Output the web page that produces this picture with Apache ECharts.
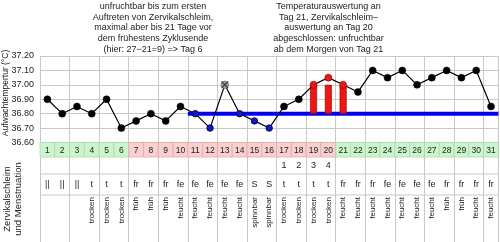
<!DOCTYPE html>
<html><head><meta charset="utf-8">
<script src="https://cdn.jsdelivr.net/npm/echarts@6/dist/echarts.min.js"></script>
<style>html,body{margin:0;padding:0;background:#fff}#c{width:500px;height:242px}</style>
</head><body><div id="c"></div>
<script>
const days = Array.from({length: 31}, (_, i) => String(i + 1));
const temps = [36.90,36.80,36.85,36.80,36.90,36.70,36.75,36.80,36.75,36.85,36.80,36.70,37.00,36.80,36.75,36.70,36.85,36.90,37.00,37.05,37.00,36.95,37.10,37.05,37.10,37.00,37.05,37.10,37.05,37.10,36.85];
const coverDays = [11,12,14,15,16];
const excludedDays = [13];
const highDays = [19,20,21];
const coverLevel = 36.80;
const coverSpan = [10.5, 31.5];
const highBarTop = 37.00;
const phase = ['g','g','g','g','g','g','p','p','p','p','p','p','p','p','p','p','p','p','p','p','g','g','g','g','g','g','g','g','g','g','g'];
const countRow = ['','','','','','','','','','','','','','','','','1','2','3','4','','','','','','','','','','',''];
const symbolRow = ['||','||','||','t','t','t','fr','fr','fr','fe','fe','fe','fe','fe','S','S','t','t','t','t','fr','fr','fr','fe','fe','fe','fe','fr','fr','fr','fr'];
const wordRow = ['','','','trocken','trocken','trocken','früh','früh','früh','feucht','feucht','feucht','feucht','feucht','spinnbar','spinnbar','trocken','trocken','trocken','trocken','feucht','feucht','feucht','feucht','feucht','feucht','feucht','früh','früh','feucht','feucht'];
const yMin = 36.6, yMax = 37.2, yStep = 0.1;
const yAxisTitle = 'Aufwachtempertur (°C)';
const tableTitle = 'Zervikalschleim\nund Menstruation';
const noteLeft = 'unfruchtbar bis zum ersten\nAuftreten von Zervikalschleim,\nmaximal aber bis 21 Tage vor\ndem frühestens Zyklusende\n(hier: 27−21=9) => Tag 6';
const noteRight = 'Temperaturauswertung an\nTag 21, Zervikalschleim–\nauswertung an Tag 20\nabgeschlossen: unfruchtbar\nab dem Morgen von Tag 21';

const FONT = '"Liberation Sans", Arial, sans-serif';
const GRID_L = 40, GRID_R = 1.6;
const rowEdges = [0, 14.5, 31.5, 52.5, 99.5];
const gridColor = '#c9c9c9';

const tempData = temps.map((t, i) => {
  const d = i + 1;
  let style = {color: '#000', borderColor: '#000', borderWidth: 0.5};
  let size = 7;
  if (coverDays.includes(d)) { style = {color: '#1818c0', borderColor: '#000040', borderWidth: 0.8}; size = 6.5; }
  if (excludedDays.includes(d)) { style = {color: '#9a9a9a', borderColor: '#666', borderWidth: 0.6}; size = 7.5; }
  if (highDays.includes(d)) { style = {color: '#ee1515', borderColor: '#8a0000', borderWidth: 0.6}; size = 7; }
  return {value: t, symbolSize: size, itemStyle: style};
});

const chart = echarts.init(document.getElementById('c'), null, {renderer: 'canvas'});
chart.setOption({
  animation: false,
  textStyle: {fontFamily: FONT},
  grid: [
    {left: GRID_L, right: GRID_R, top: 56, height: 86.5},
    {left: GRID_L, right: GRID_R, top: 142.5, height: 99.5}
  ],
  xAxis: [
    {type: 'category', gridIndex: 0, data: days, axisLabel: {show: false}, axisTick: {show: false}, axisLine: {show: false},
     splitLine: {show: true, lineStyle: {color: gridColor, width: 1}}},
    {type: 'value', gridIndex: 0, min: 0.5, max: 31.5, show: false},
    {type: 'category', gridIndex: 1, data: days, axisLabel: {show: false}, axisTick: {show: false}, axisLine: {show: false},
     splitLine: {show: true, lineStyle: {color: gridColor, width: 1}}}
  ],
  yAxis: [
    {type: 'value', gridIndex: 0, min: yMin, max: yMax, interval: yStep,
     axisLine: {show: false}, axisTick: {show: false},
     axisLabel: {formatter: v => v.toFixed(2), fontSize: 9, color: '#222', margin: 6, fontFamily: FONT},
     splitLine: {show: true, lineStyle: {color: gridColor, width: 1}}},
    {type: 'value', gridIndex: 1, min: rowEdges[0], max: rowEdges[rowEdges.length - 1], inverse: true, show: false}
  ],
  graphic: [
    {type: 'text', x: 6, y: 93, rotation: Math.PI / 2,
     style: {text: yAxisTitle, fill: '#222', font: '8.5px ' + FONT, align: 'center', verticalAlign: 'middle'}},
    {type: 'text', x: 13, y: 199, rotation: Math.PI / 2,
     style: {text: tableTitle, fill: '#222', font: '9.5px ' + FONT, align: 'center', verticalAlign: 'middle', lineHeight: 11.5}},
    {type: 'text', x: 153, y: 1,
     style: {text: noteLeft, fill: '#222', font: '9px ' + FONT, align: 'center', verticalAlign: 'top', lineHeight: 10.7}},
    {type: 'text', x: 328.5, y: 1,
     style: {text: noteRight, fill: '#222', font: '9px ' + FONT, align: 'center', verticalAlign: 'top', lineHeight: 10.7}}
  ],
  series: [
    {type: 'line', xAxisIndex: 1, yAxisIndex: 0, z: 2, symbol: 'none',
     data: [[coverSpan[0], coverLevel], [coverSpan[1], coverLevel]],
     lineStyle: {color: '#0000ee', width: 4}},
    {type: 'bar', xAxisIndex: 0, yAxisIndex: 0, z: 3, stack: 'high', barWidth: 7, silent: true,
     data: days.map((d, i) => highDays.includes(i + 1) ? coverLevel : '-'),
     itemStyle: {color: 'rgba(0,0,0,0)'}},
    {type: 'bar', xAxisIndex: 0, yAxisIndex: 0, z: 3, stack: 'high', barWidth: 7,
     data: days.map((d, i) => highDays.includes(i + 1) ? +(highBarTop - coverLevel).toFixed(2) : '-'),
     itemStyle: {color: '#ee1515', borderColor: '#8a0000', borderWidth: 0.6}},
    {type: 'line', xAxisIndex: 0, yAxisIndex: 0, z: 4, symbol: 'circle', data: tempData,
     lineStyle: {color: '#000', width: 1.2}},
    {type: 'scatter', xAxisIndex: 0, yAxisIndex: 0, z: 5, symbolSize: 7.5,
     symbol: 'path://M0,1 L1,0 L5,4 L9,0 L10,1 L6,5 L10,9 L9,10 L5,6 L1,10 L0,9 L4,5 Z',
     data: excludedDays.map(d => [d - 1, temps[d - 1]]),
     itemStyle: {color: '#222'}},
    {type: 'custom', xAxisIndex: 2, yAxisIndex: 1, z: 3,
     data: days.map((d, i) => [i]),
     renderItem: (params, api) => {
       const i = api.value(0);
       const w = api.size([1, 0])[0];
       const cx = api.coord([i, 0])[0];
       const y = v => api.coord([i, v])[1];
       const x0 = cx - w / 2;
       const g = phase[i] === 'g';
       const ch = [];
       ch.push({type: 'rect', shape: {x: x0, y: y(rowEdges[0]), width: w, height: y(rowEdges[1]) - y(rowEdges[0])},
                style: {fill: g ? '#cdf5cd' : '#f9cfcf', stroke: g ? '#a8dca8' : '#e6aaaa', lineWidth: 0.8}});
       [rowEdges[2], rowEdges[3]].forEach(e => {
         ch.push({type: 'line', shape: {x1: x0, y1: y(e), x2: x0 + w, y2: y(e)}, style: {stroke: gridColor, lineWidth: 1}});
       });
       ch.push({type: 'text', x: cx, y: (y(rowEdges[0]) + y(rowEdges[1])) / 2 + 0.5,
                style: {text: days[i], fill: '#222', font: '8.5px ' + FONT, align: 'center', verticalAlign: 'middle'}});
       ch.push({type: 'text', x: cx, y: (y(rowEdges[1]) + y(rowEdges[2])) / 2,
                style: {text: countRow[i], fill: '#222', font: '9px ' + FONT, align: 'center', verticalAlign: 'middle'}});
       ch.push({type: 'text', x: cx, y: (y(rowEdges[2]) + y(rowEdges[3])) / 2,
                style: {text: symbolRow[i], fill: '#222', font: '9px ' + FONT, align: 'center', verticalAlign: 'middle'}});
       ch.push({type: 'text', x: cx, y: y(rowEdges[3]) + 2, rotation: Math.PI / 2,
                style: {text: wordRow[i], fill: '#222', font: '8px ' + FONT, align: 'right', verticalAlign: 'middle'}});
       return {type: 'group', children: ch};
     }}
  ]
});
</script>
</body></html>
